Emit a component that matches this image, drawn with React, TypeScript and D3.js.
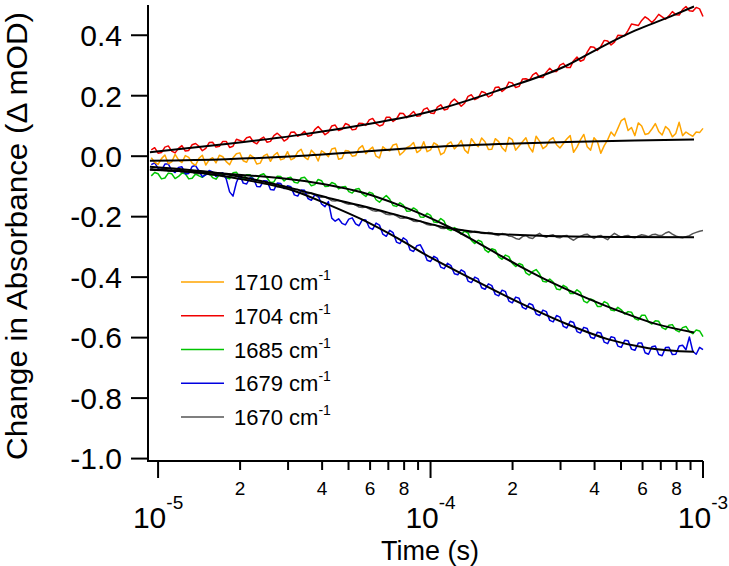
import React from "react";
import * as d3 from "d3";

// log10(time in s) for each sample of the traces
const logT = [
  -5.025, -5.0125, -5.0, -4.9875, -4.975, -4.9625, -4.95, -4.9375, -4.925, -4.9125, -4.9, -4.8875, -4.875, -4.8625, -4.85, -4.8375, -4.825, -4.8125, -4.8, -4.7875,
  -4.775, -4.7625, -4.75, -4.7375, -4.725, -4.7125, -4.7, -4.6875, -4.675, -4.6625, -4.65, -4.6375, -4.625, -4.6125, -4.6, -4.5875, -4.575, -4.5625, -4.55, -4.5375,
  -4.525, -4.5125, -4.5, -4.4875, -4.475, -4.4625, -4.45, -4.4375, -4.425, -4.4125, -4.4, -4.3875, -4.375, -4.3625, -4.35, -4.3375, -4.325, -4.3125, -4.3, -4.2875,
  -4.275, -4.2625, -4.25, -4.2375, -4.225, -4.2125, -4.2, -4.1875, -4.175, -4.1625, -4.15, -4.1375, -4.125, -4.1125, -4.1, -4.0875, -4.075, -4.0625, -4.05, -4.0375,
  -4.025, -4.0125, -4.0, -3.9875, -3.975, -3.9625, -3.95, -3.9375, -3.925, -3.9125, -3.9, -3.8875, -3.875, -3.8625, -3.85, -3.8375, -3.825, -3.8125, -3.8, -3.7875,
  -3.775, -3.7625, -3.75, -3.7375, -3.725, -3.7125, -3.7, -3.6875, -3.675, -3.6625, -3.65, -3.6375, -3.625, -3.6125, -3.6, -3.5875, -3.575, -3.5625, -3.55, -3.5375,
  -3.525, -3.5125, -3.5, -3.4875, -3.475, -3.4625, -3.45, -3.4375, -3.425, -3.4125, -3.4, -3.3875, -3.375, -3.3625, -3.35, -3.3375, -3.325, -3.3125, -3.3, -3.2875,
  -3.275, -3.2625, -3.25, -3.2375, -3.225, -3.2125, -3.2, -3.1875, -3.175, -3.1625, -3.15, -3.1375, -3.125, -3.1125, -3.1, -3.0875, -3.075, -3.0625, -3.05, -3.0375,
  -3.025, -3.0125, -3.0,
];

const d1710 = [
  -0.005, -0.02, -0.027, -0.008, 0.004, -0.025, -0.019, 0.006, -0.012, -0.021, 0.002, -0.004, -0.023, -0.03, -0.007, 0.003, -0.029, -0.012, -0.005, -0.022,
  0.003, -0.002, -0.018, -0.028, -0.005, 0.008, 0.011, -0.015, -0.02, 0.004, -0.004, -0.026, -0.023, 0.001, 0.007, -0.017, 0.003, 0.012, -0.012, -0.008,
  0.015, -0.012, -0.006, 0.014, 0.023, -0.003, -0.011, 0.02, 0.008, -0.016, 0.018, 0.01, -0.002, 0.024, 0.027, -0.01, -0.007, 0.019, 0.017, 0.0,
  0.002, 0.026, 0.035, 0.008, 0.021, 0.03, 0.0, -0.006, 0.031, 0.022, 0.018, 0.037, 0.04, 0.004, 0.014, 0.028, 0.034, 0.045, 0.012, 0.02,
  0.048, 0.015, 0.021, 0.044, 0.037, 0.005, 0.012, 0.04, 0.047, 0.024, 0.036, 0.052, 0.021, 0.01, 0.058, 0.042, 0.031, 0.06, 0.048, 0.022,
  0.023, 0.058, 0.048, 0.028, 0.016, 0.062, 0.055, 0.02, 0.034, 0.048, 0.061, 0.03, 0.014, 0.066, 0.05, 0.025, 0.033, 0.054, 0.061, 0.038,
  0.027, 0.042, 0.057, 0.068, 0.013, 0.03, 0.054, 0.072, 0.031, 0.02, 0.061, 0.048, 0.01, 0.035, 0.054, 0.08, 0.067, 0.092, 0.118, 0.125,
  0.085, 0.095, 0.068, 0.11, 0.1, 0.072, 0.075, 0.09, 0.108, 0.082, 0.07, 0.098, 0.088, 0.064, 0.075, 0.112, 0.068, 0.08, 0.072, 0.066,
  0.08, 0.078, 0.092,
];

const d1704 = [
  0.021, 0.028, 0.01, 0.012, 0.03, 0.034, 0.017, 0.011, 0.026, 0.035, 0.017, 0.019, 0.038, 0.042, 0.033, 0.018, 0.026, 0.045, 0.046, 0.03,
  0.033, 0.049, 0.049, 0.029, 0.033, 0.056, 0.052, 0.048, 0.061, 0.064, 0.047, 0.041, 0.056, 0.063, 0.046, 0.049, 0.068, 0.076, 0.066, 0.05,
  0.057, 0.079, 0.08, 0.066, 0.072, 0.082, 0.066, 0.069, 0.088, 0.098, 0.086, 0.071, 0.079, 0.1, 0.103, 0.085, 0.089, 0.108, 0.103, 0.087,
  0.089, 0.109, 0.108, 0.102, 0.12, 0.125, 0.108, 0.1, 0.104, 0.129, 0.129, 0.115, 0.123, 0.142, 0.141, 0.127, 0.137, 0.148, 0.132, 0.134,
  0.155, 0.16, 0.143, 0.141, 0.162, 0.17, 0.153, 0.156, 0.179, 0.189, 0.178, 0.165, 0.175, 0.198, 0.203, 0.187, 0.193, 0.214, 0.21, 0.196,
  0.202, 0.227, 0.229, 0.214, 0.223, 0.245, 0.242, 0.227, 0.231, 0.255, 0.256, 0.251, 0.269, 0.276, 0.261, 0.26, 0.278, 0.291, 0.28, 0.28,
  0.301, 0.307, 0.293, 0.293, 0.316, 0.328, 0.314, 0.319, 0.344, 0.362, 0.36, 0.35, 0.363, 0.383, 0.381, 0.368, 0.377, 0.4, 0.399, 0.398,
  0.416, 0.437, 0.435, 0.432, 0.449, 0.461, 0.453, 0.442, 0.454, 0.469, 0.461, 0.453, 0.464, 0.478, 0.468, 0.467, 0.485, 0.495, 0.481, 0.479,
  0.492, 0.487, 0.462,
];

const d1685 = [
  -0.065, -0.054, -0.058, -0.075, -0.072, -0.056, -0.058, -0.074, -0.067, -0.056, -0.058, -0.075, -0.073, -0.059, -0.065, -0.07, -0.059, -0.056, -0.071, -0.076,
  -0.061, -0.059, -0.072, -0.075, -0.055, -0.053, -0.071, -0.075, -0.061, -0.061, -0.077, -0.08, -0.062, -0.058, -0.072, -0.087, -0.085, -0.066, -0.067, -0.082,
  -0.072, -0.07, -0.086, -0.089, -0.072, -0.07, -0.083, -0.098, -0.094, -0.077, -0.081, -0.1, -0.099, -0.087, -0.092, -0.108, -0.102, -0.1, -0.117, -0.122,
  -0.109, -0.107, -0.125, -0.133, -0.119, -0.123, -0.144, -0.152, -0.14, -0.13, -0.142, -0.163, -0.166, -0.154, -0.162, -0.182, -0.181, -0.171, -0.178, -0.201,
  -0.202, -0.189, -0.196, -0.218, -0.219, -0.206, -0.215, -0.241, -0.246, -0.236, -0.243, -0.258, -0.248, -0.254, -0.279, -0.289, -0.278, -0.283, -0.31, -0.318,
  -0.306, -0.31, -0.333, -0.341, -0.327, -0.332, -0.354, -0.365, -0.355, -0.36, -0.386, -0.393, -0.381, -0.375, -0.389, -0.414, -0.416, -0.406, -0.416, -0.439,
  -0.442, -0.427, -0.434, -0.454, -0.454, -0.442, -0.45, -0.479, -0.485, -0.472, -0.477, -0.497, -0.497, -0.481, -0.487, -0.509, -0.511, -0.5, -0.508, -0.522,
  -0.514, -0.516, -0.537, -0.542, -0.526, -0.526, -0.548, -0.555, -0.544, -0.546, -0.567, -0.573, -0.559, -0.557, -0.575, -0.581, -0.567, -0.563, -0.58, -0.587,
  -0.575, -0.578, -0.597,
];

const d1679 = [
  -0.028, -0.022, -0.04, -0.047, -0.026, -0.026, -0.046, -0.054, -0.037, -0.035, -0.059, -0.057, -0.034, -0.031, -0.049, -0.068, -0.062, -0.047, -0.052, -0.067,
  -0.058, -0.055, -0.075, -0.118, -0.132, -0.087, -0.062, -0.089, -0.092, -0.071, -0.074, -0.1, -0.101, -0.081, -0.082, -0.11, -0.112, -0.089, -0.09, -0.107,
  -0.098, -0.101, -0.128, -0.132, -0.112, -0.113, -0.14, -0.146, -0.128, -0.131, -0.158, -0.167, -0.15, -0.205, -0.215, -0.207, -0.222, -0.227, -0.208, -0.204,
  -0.224, -0.23, -0.21, -0.211, -0.236, -0.242, -0.221, -0.228, -0.258, -0.265, -0.245, -0.253, -0.284, -0.289, -0.27, -0.278, -0.31, -0.315, -0.296, -0.293,
  -0.315, -0.344, -0.348, -0.331, -0.338, -0.367, -0.372, -0.354, -0.362, -0.389, -0.392, -0.376, -0.383, -0.413, -0.418, -0.4, -0.406, -0.435, -0.44, -0.422,
  -0.428, -0.457, -0.462, -0.443, -0.448, -0.479, -0.485, -0.466, -0.47, -0.5, -0.506, -0.487, -0.492, -0.522, -0.527, -0.509, -0.514, -0.543, -0.548, -0.527,
  -0.532, -0.563, -0.568, -0.546, -0.55, -0.58, -0.585, -0.566, -0.57, -0.599, -0.603, -0.582, -0.585, -0.615, -0.62, -0.597, -0.6, -0.628, -0.632, -0.609,
  -0.61, -0.638, -0.642, -0.618, -0.618, -0.65, -0.655, -0.63, -0.628, -0.656, -0.66, -0.633, -0.632, -0.656, -0.655, -0.628, -0.625, -0.64, -0.598, -0.645,
  -0.655, -0.632, -0.64,
];

const d1670 = [
  -0.04, -0.047, -0.046, -0.041, -0.042, -0.049, -0.05, -0.045, -0.047, -0.054, -0.055, -0.05, -0.052, -0.058, -0.058, -0.054, -0.056, -0.061, -0.062, -0.06,
  -0.063, -0.067, -0.068, -0.066, -0.07, -0.074, -0.074, -0.072, -0.076, -0.081, -0.082, -0.08, -0.085, -0.09, -0.09, -0.089, -0.096, -0.101, -0.1, -0.099,
  -0.104, -0.11, -0.111, -0.11, -0.116, -0.123, -0.124, -0.122, -0.128, -0.135, -0.136, -0.134, -0.14, -0.147, -0.148, -0.146, -0.15, -0.156, -0.159, -0.157,
  -0.162, -0.168, -0.17, -0.168, -0.174, -0.18, -0.182, -0.18, -0.186, -0.192, -0.194, -0.192, -0.197, -0.204, -0.205, -0.202, -0.208, -0.215, -0.216, -0.214,
  -0.22, -0.226, -0.228, -0.226, -0.231, -0.238, -0.239, -0.236, -0.24, -0.245, -0.246, -0.243, -0.247, -0.252, -0.252, -0.248, -0.25, -0.255, -0.256, -0.252,
  -0.254, -0.26, -0.262, -0.256, -0.258, -0.264, -0.266, -0.272, -0.275, -0.266, -0.262, -0.27, -0.272, -0.262, -0.255, -0.264, -0.268, -0.262, -0.26, -0.268,
  -0.27, -0.264, -0.262, -0.272, -0.278, -0.27, -0.265, -0.26, -0.258, -0.266, -0.272, -0.265, -0.262, -0.27, -0.276, -0.264, -0.255, -0.262, -0.268, -0.264,
  -0.262, -0.268, -0.27, -0.264, -0.26, -0.262, -0.266, -0.26, -0.258, -0.262, -0.262, -0.254, -0.25, -0.258, -0.264, -0.268, -0.27, -0.266, -0.263, -0.256,
  -0.252, -0.248, -0.246,
];

// fitted curves: [log10(t), value]
const fit1710: [number, number][] = [
  [-5.03, -0.015], [-4.75, -0.01], [-4.5, 0.0], [-4.25, 0.015], [-4.0, 0.03],
  [-3.75, 0.04], [-3.5, 0.047], [-3.25, 0.052], [-3.033, 0.055],
];
const fit1704: [number, number][] = [
  [-5.03, 0.013], [-4.75, 0.04], [-4.5, 0.068], [-4.25, 0.103], [-4.0, 0.148],
  [-3.75, 0.218], [-3.5, 0.3], [-3.375, 0.36], [-3.25, 0.415], [-3.125, 0.46],
  [-3.033, 0.495],
];
const fit1685: [number, number][] = [
  [-5.03, -0.045], [-4.75, -0.058], [-4.5, -0.078], [-4.375, -0.095], [-4.25, -0.12],
  [-4.12, -0.16], [-4.037, -0.19], [-3.93, -0.235], [-3.8, -0.3], [-3.67, -0.365],
  [-3.55, -0.42], [-3.42, -0.472], [-3.3, -0.515], [-3.18, -0.553], [-3.033, -0.583],
];
const fit1679: [number, number][] = [
  [-5.03, -0.043], [-4.85, -0.055], [-4.67, -0.08], [-4.5, -0.115], [-4.375, -0.16],
  [-4.25, -0.21], [-4.12, -0.272], [-4.0, -0.335], [-3.85, -0.405], [-3.67, -0.486],
  [-3.5, -0.555], [-3.35, -0.605], [-3.2, -0.635], [-3.033, -0.647],
];
const fit1670: [number, number][] = [
  [-5.03, -0.035], [-4.75, -0.06], [-4.5, -0.108], [-4.375, -0.138], [-4.25, -0.165],
  [-4.1, -0.2], [-3.95, -0.235], [-3.8, -0.254], [-3.6, -0.263], [-3.3, -0.267],
  [-3.033, -0.268],
];

const legendLabels = ["1710", "1704", "1685", "1679", "1670"];
const yTicks = [0.4, 0.2, 0.0, -0.2, -0.4, -0.6, -0.8, -1.0];
const xMajorExp = [-5, -4, -3];
const xMinorMult = [2, 3, 4, 5, 6, 7, 8, 9];
const xMinorLabeled = [2, 4, 6, 8];

const COLORS = ["#FFA500", "#F00000", "#00C400", "#0000E0", "#555555"];
const FONT = "'Liberation Sans', Arial, Helvetica, sans-serif";

export default function App() {
  const W = 729, H = 566;
  const x = d3.scaleLog().domain([Math.pow(10, -5.037), 1e-3]).range([148, 703]);
  const y = d3.scaleLinear().domain([-1.008, 0.5]).range([461, 5]);

  const dataSeries = [d1710, d1704, d1685, d1679, d1670];
  const fitSeries = [fit1710, fit1704, fit1685, fit1679, fit1670];

  const dataLine = d3
    .line<number>()
    .x((_, i) => x(Math.pow(10, logT[i])))
    .y((d) => y(d));
  const fitLine = d3
    .line<[number, number]>()
    .x((d) => x(Math.pow(10, d[0])))
    .y((d) => y(d[1]))
    .curve(d3.curveMonotoneX);

  const drawOrder = [4, 2, 3, 0, 1];

  const minorTicks: { v: number; m: number }[] = [];
  [-5, -4].forEach((e) =>
    xMinorMult.forEach((m) => minorTicks.push({ v: m * Math.pow(10, e), m }))
  );

  const legendY = d3.scaleLinear().domain([0, 4]).range([282, 417]);

  return (
    <svg
      width={W}
      height={H}
      style={{ position: "absolute", left: 0, top: 0, background: "#fff" }}
      fontFamily={FONT}
    >
      {/* data traces */}
      {drawOrder.map((k) => (
        <path
          key={"d" + k}
          d={dataLine(dataSeries[k]) || ""}
          fill="none"
          stroke={COLORS[k]}
          strokeWidth={1.5}
          strokeLinejoin="round"
        />
      ))}
      {/* fits */}
      {drawOrder.map((k) => (
        <path
          key={"f" + k}
          d={fitLine(fitSeries[k]) || ""}
          fill="none"
          stroke="#000"
          strokeWidth={2}
        />
      ))}

      {/* axes */}
      <line x1={148} x2={148} y1={y(0.5)} y2={461} stroke="#000" strokeWidth={2} />
      <line x1={147} x2={703} y1={461} y2={461} stroke="#000" strokeWidth={2} />

      {yTicks.map((t) => (
        <g key={"yt" + t}>
          <line x1={131} x2={148} y1={y(t)} y2={y(t)} stroke="#000" strokeWidth={2} />
          <text x={122} y={y(t)} dy="0.36em" textAnchor="end" fontSize={30} fill="#000">
            {t.toFixed(1)}
          </text>
        </g>
      ))}

      {xMajorExp.map((e) => {
        const px = x(Math.pow(10, e));
        return (
          <g key={"xm" + e}>
            <line x1={px} x2={px} y1={461} y2={478} stroke="#000" strokeWidth={2} />
            <text x={px} y={528} textAnchor="middle" fontSize={30} fill="#000">
              <tspan>10</tspan>
              <tspan dy={-19} fontSize={19}>
                {String(e)}
              </tspan>
            </text>
          </g>
        );
      })}

      {minorTicks.map(({ v, m }, i) => {
        const px = x(v);
        return (
          <g key={"xn" + i}>
            <line x1={px} x2={px} y1={461} y2={470} stroke="#000" strokeWidth={2} />
            {xMinorLabeled.includes(m) && (
              <text x={px} y={495} textAnchor="middle" fontSize={19} fill="#000">
                {m}
              </text>
            )}
          </g>
        );
      })}

      {/* axis titles */}
      <text x={430} y={560} textAnchor="middle" fontSize={27} fill="#000">
        Time (s)
      </text>
      <text
        transform="translate(27,236) rotate(-90)"
        textAnchor="middle"
        fontSize={29}
        fill="#000"
        textLength={448}
        lengthAdjust="spacingAndGlyphs"
      >
        Change in Absorbance (Δ mOD)
      </text>

      {/* legend */}
      {legendLabels.map((lab, i) => {
        const ly = legendY(i);
        return (
          <g key={"lg" + i}>
            <line x1={181} x2={224} y1={ly} y2={ly} stroke={COLORS[i]} strokeWidth={1.6} />
            <text x={234} y={ly + 8} fontSize={22} fill="#000">
              <tspan>{lab} cm</tspan>
              <tspan dy={-10} fontSize={14}>
                -1
              </tspan>
            </text>
          </g>
        );
      })}
    </svg>
  );
}
